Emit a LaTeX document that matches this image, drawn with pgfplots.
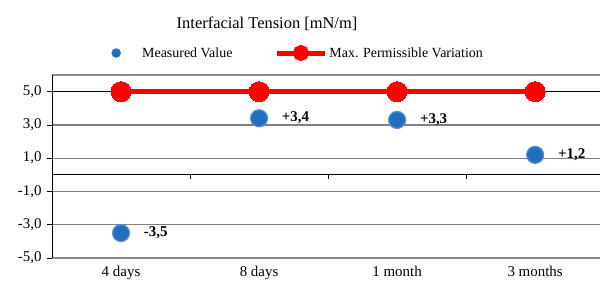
\documentclass[border=0pt]{standalone}
\usepackage{fontspec}
\setmainfont{Liberation Serif}
\usepackage{pgfplots}
\pgfplotsset{compat=1.18}
\definecolor{mblue}{HTML}{1F6FC0}
\definecolor{mbluee}{HTML}{5B8FCB}
\definecolor{mred}{HTML}{FF0000}
\begin{document}
\begin{tikzpicture}[x=1bp,y=1bp]
\useasboundingbox (0,0) rectangle (600,287);
\node[font=\fontsize{16.5}{18}\selectfont] at (267,263) {Interfacial Tension [mN/m]};
\begin{axis}[at={(52bp,29bp)}, anchor=south west, scale only axis,
  width=548bp, height=183bp,
  xmin=-0.5, xmax=3.47, ymin=-5, ymax=6,
  xtick={0,1,2,3}, xticklabels={4 days,8 days,1 month,3 months},
  x tick style={draw=none},
  ytick={-5,-3,-1,1,3},
  extra y ticks={5},
  extra y tick style={grid style={black, line width=0.8bp}},
  ytick pos=left, tick align=outside, major tick length=5bp,
  y tick style={black, line width=0.8bp},
  ymajorgrids, grid style={gray, line width=1.3bp},
  separate axis lines,
  x axis line style={gray!90, line width=1.6bp},
  y axis line style={black, line width=0.9bp},
  tick label style={font=\fontsize{15}{17}\selectfont},
  yticklabel style={xshift=-2bp},
  legend style={at={(0.073,1.12)}, anchor=west, draw=none, fill=none,
    font=\fontsize{14}{16}\selectfont, legend columns=2,
    /tikz/every even column/.append style={column sep=40bp},
    inner sep=0pt, nodes={inner sep=2bp}},
  legend cell align=left,
  clip=false,
  /pgf/number format/.cd, fixed, fixed zerofill, precision=1, use comma, assume math mode=true
]
\addplot[only marks, mark=*, mark size=8.5bp, mark options={fill=mblue, draw=mbluee, line width=1.2bp},
  point meta=explicit symbolic,
  nodes near coords,
  nodes near coords style={anchor=west, xshift=19bp, yshift=0.5bp, text=black,
    font=\fontsize{15}{17}\selectfont\bfseries},
  legend image code/.code={\path[draw=none,fill=none] (0,0) -- (48bp,0); \fill[mblue] (24bp,0) circle (4.5bp);}
] table[meta=lab] {
x y lab
0 -3.5 -3,5
1 3.4 +3,4
2 3.3 +3,3
3 1.2 +1,2
};
\addlegendentry{Measured Value}
\addplot[mred, line width=5bp, mark=*, mark size=10bp, mark options={fill=mred, draw=mred, line width=0pt},
  legend image code/.code={\draw[mred, line width=5bp] (0,0) -- (48bp,0); \fill[mred] (24bp,0) circle (5.5bp);}
] coordinates {(0,5) (1,5) (2,5) (3,5)};
\addlegendentry{Max. Permissible Variation}
\draw[black, line width=0.8bp] (axis cs:-0.5,0) -- (axis cs:3.47,0);
\draw[black, line width=0.8bp] (axis cs:0.5,0) -- ([yshift=-4bp]axis cs:0.5,0);
\draw[black, line width=0.8bp] (axis cs:1.5,0) -- ([yshift=-4bp]axis cs:1.5,0);
\draw[black, line width=0.8bp] (axis cs:2.5,0) -- ([yshift=-4bp]axis cs:2.5,0);
\end{axis}
\end{tikzpicture}
\end{document}
